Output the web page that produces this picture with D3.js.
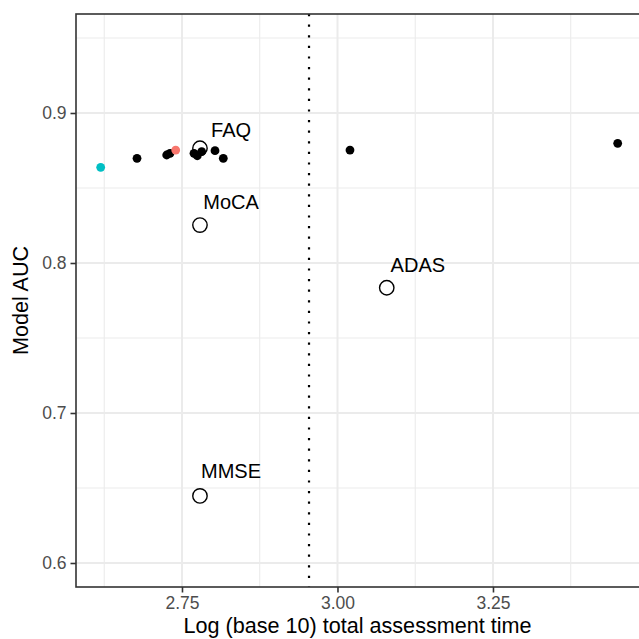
<!DOCTYPE html>
<html>
<head>
<meta charset="utf-8">
<script src="https://cdn.jsdelivr.net/npm/d3@7"></script>
<style>
  body { margin: 0; background: #fff; }
  text { font-family: "Liberation Sans", Arial, sans-serif; }
</style>
</head>
<body>
<svg id="chart"></svg>
<script>
// model points (log10 time, AUC)
var modelX = [2.6777, 2.7254, 2.7307, 2.7693, 2.7746, 2.7817, 2.8031, 2.8164, 3.0201, 3.4505];
var modelY = [0.8698, 0.8720, 0.8731, 0.8731, 0.8715, 0.8742, 0.8749, 0.8698, 0.8753, 0.8798];
// highlighted models
var highlightX = [2.7399, 2.6193];
var highlightY = [0.8753, 0.8638];
var highlightColor = ["#F8766D", "#00BFC4"];
// standard tests
var testNames = ["FAQ", "MoCA", "ADAS", "MMSE"];
var testX = [2.7789, 2.7789, 3.0792, 2.7789];
var testY = [0.8765, 0.8253, 0.7835, 0.6447];
var labelY = [0.8843, 0.8360, 0.7942, 0.6567];
var cutoff = Math.log10(900);
var xTicks = [2.75, 3.00, 3.25];
var yTicks = [0.6, 0.7, 0.8, 0.9];
var xMinor = [2.625, 2.875, 3.125, 3.375];
var yMinor = [0.65, 0.75, 0.85, 0.95];

var W = 639, H = 639;
var margin = { top: 14, right: -4, bottom: 52, left: 76 },
    width = W - margin.left - margin.right,
    height = H - margin.top - margin.bottom;

var svg = d3.select("#chart").attr("width", W).attr("height", H);
var g = svg.append("g")
    .attr("transform", "translate(" + margin.left + "," + margin.top + ")");

var x = d3.scaleLinear().domain([2.5796, 3.4912]).range([0, width]);
var y = d3.scaleLinear().domain([0.584, 0.966]).range([height, 0]);

// grid
g.selectAll(".vminor").data(xMinor).enter().append("line")
    .attr("x1", function (d) { return x(d); }).attr("x2", function (d) { return x(d); })
    .attr("y1", 0).attr("y2", height)
    .attr("stroke", "#EBEBEB").attr("stroke-width", 1.1);
g.selectAll(".hminor").data(yMinor).enter().append("line")
    .attr("y1", function (d) { return y(d); }).attr("y2", function (d) { return y(d); })
    .attr("x1", 0).attr("x2", width)
    .attr("stroke", "#EBEBEB").attr("stroke-width", 1.1);
g.selectAll(".vmajor").data(xTicks).enter().append("line")
    .attr("x1", function (d) { return x(d); }).attr("x2", function (d) { return x(d); })
    .attr("y1", 0).attr("y2", height)
    .attr("stroke", "#EBEBEB").attr("stroke-width", 2);
g.selectAll(".hmajor").data(yTicks).enter().append("line")
    .attr("y1", function (d) { return y(d); }).attr("y2", function (d) { return y(d); })
    .attr("x1", 0).attr("x2", width)
    .attr("stroke", "#EBEBEB").attr("stroke-width", 2);

// 15 minute cut-off
g.append("line")
    .attr("x1", x(cutoff)).attr("x2", x(cutoff))
    .attr("y1", 0).attr("y2", height)
    .attr("stroke", "#000").attr("stroke-width", 2.2)
    .attr("stroke-dasharray", "2.2,8.4");

// open circles for tests
g.selectAll(".test").data(testNames).enter().append("circle")
    .attr("cx", function (d, i) { return x(testX[i]); })
    .attr("cy", function (d, i) { return y(testY[i]); })
    .attr("r", 7.2)
    .attr("fill", "none").attr("stroke", "#000").attr("stroke-width", 1.4);

g.selectAll(".lab").data(testNames).enter().append("text")
    .attr("x", function (d, i) { return x(testX[i] + 0.05); })
    .attr("y", function (d, i) { return y(labelY[i]); })
    .attr("text-anchor", "middle")
    .attr("font-size", "20px")
    .attr("fill", "#000")
    .text(function (d) { return d; });

// model dots
g.selectAll(".dot").data(modelX).enter().append("circle")
    .attr("cx", function (d) { return x(d); })
    .attr("cy", function (d, i) { return y(modelY[i]); })
    .attr("r", 4.4).attr("fill", "#000");

g.selectAll(".hl").data(highlightX).enter().append("circle")
    .attr("cx", function (d) { return x(d); })
    .attr("cy", function (d, i) { return y(highlightY[i]); })
    .attr("r", 4.4)
    .attr("fill", function (d, i) { return highlightColor[i]; });

// panel border
g.append("rect")
    .attr("width", width).attr("height", height)
    .attr("fill", "none").attr("stroke", "#333333").attr("stroke-width", 1.6);

// axes
var xAxis = g.append("g")
    .attr("transform", "translate(0," + height + ")")
    .call(d3.axisBottom(x).tickValues(xTicks).tickFormat(d3.format(".2f")).tickSize(5.5).tickPadding(4));
var yAxis = g.append("g")
    .call(d3.axisLeft(y).tickValues(yTicks).tickFormat(d3.format(".1f")).tickSize(5.5).tickPadding(4));
[xAxis, yAxis].forEach(function (a) {
    a.select(".domain").remove();
    a.selectAll(".tick line").attr("stroke", "#333333").attr("stroke-width", 1.6);
    a.selectAll(".tick text")
        .attr("fill", "#4D4D4D")
        .style("font-size", "17.5px")
        .style("font-family", "Liberation Sans, Arial, sans-serif");
});

// titles
svg.append("text")
    .attr("x", margin.left + (639 - margin.left) / 2)
    .attr("y", 633)
    .attr("text-anchor", "middle")
    .attr("font-size", "21.6px")
    .text("Log (base 10) total assessment time");
svg.append("text")
    .attr("transform", "translate(28," + (margin.top + height / 2) + ") rotate(-90)")
    .attr("text-anchor", "middle")
    .attr("font-size", "21.6px")
    .text("Model AUC");
</script>
</body>
</html>
